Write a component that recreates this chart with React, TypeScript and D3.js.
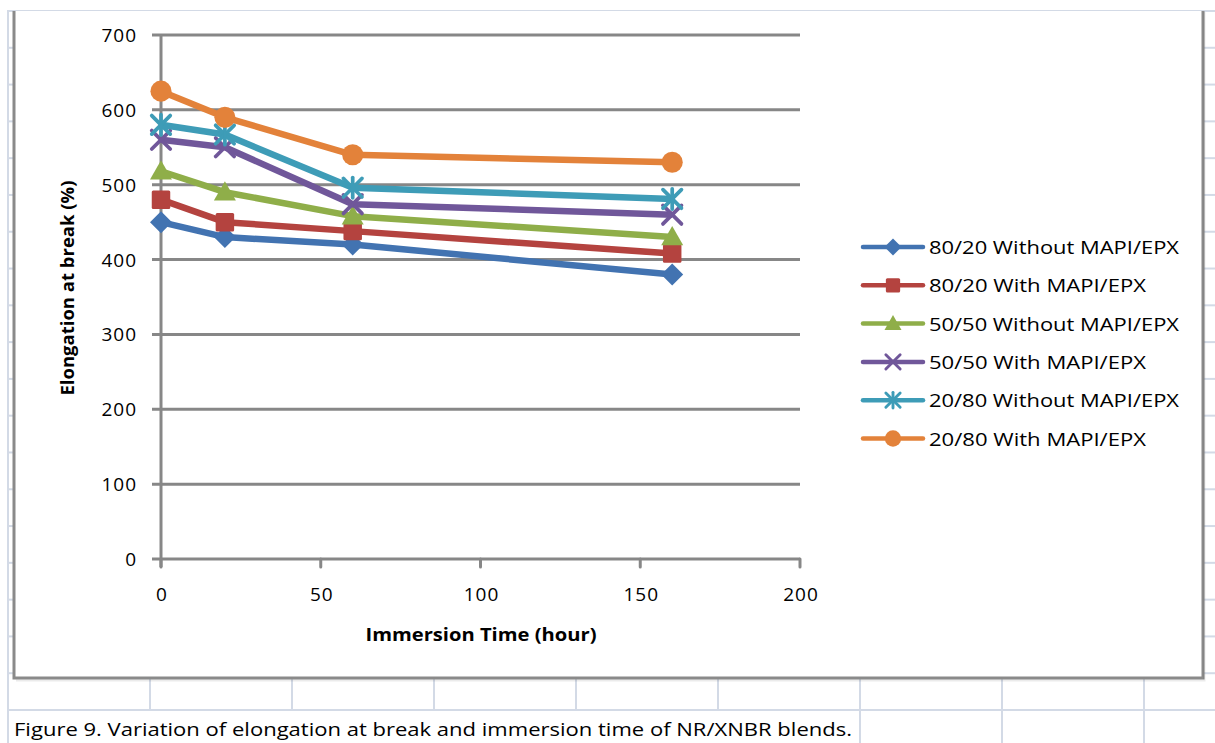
import React from "react";
import * as d3 from "d3";

const W = 1215;
const H = 743;

// Immersion times (hours)
const times = [0, 20, 60, 160];

const seriesNames = [
  "80/20 Without MAPI/EPX",
  "80/20 With MAPI/EPX",
  "50/50 Without MAPI/EPX",
  "50/50 With MAPI/EPX",
  "20/80 Without MAPI/EPX",
  "20/80 With MAPI/EPX",
];

// Elongation at break (%) per series
const s8020Without = [450, 430, 420, 380];
const s8020With = [480, 450, 438, 408];
const s5050Without = [518, 490, 458, 430];
const s5050With = [560, 550, 474, 460];
const s2080Without = [580, 567, 496, 481];
const s2080With = [625, 590, 540, 530];

const seriesValues = [s8020Without, s8020With, s5050Without, s5050With, s2080Without, s2080With];
const seriesColors = ["#4273B1", "#B4433F", "#8FAE49", "#70579A", "#3E9CB7", "#E3823A"];
const markerKinds = ["diamond", "square", "triangle", "x", "star", "circle"];

const yTicks = [0, 100, 200, 300, 400, 500, 600, 700];
const xTicks = [0, 50, 100, 150, 200];

const xTitle = "Immersion Time (hour)";
const yTitle = "Elongation at break (%)";
const caption = "Figure 9. Variation of elongation at break and immersion time of NR/XNBR blends.";

const FONT = "'Open Sans', 'Liberation Sans', sans-serif";
const GRID = "#878787";
const SHEET = "#D3DAE6";

function Marker({ kind, cx, cy, color, s }: { kind: string; cx: number; cy: number; color: string; s: number }) {
  const h = s / 2;
  if (kind === "diamond") {
    return <path d={`M${cx},${cy - h}L${cx + h},${cy}L${cx},${cy + h}L${cx - h},${cy}Z`} fill={color} />;
  }
  if (kind === "square") {
    const a = s * 0.42;
    return <rect x={cx - a} y={cy - a} width={2 * a} height={2 * a} fill={color} rx={1.5} />;
  }
  if (kind === "triangle") {
    const a = s * 0.5;
    return <path d={`M${cx},${cy - a}L${cx + a},${cy + a * 0.75}L${cx - a},${cy + a * 0.75}Z`} fill={color} />;
  }
  if (kind === "circle") {
    return <circle cx={cx} cy={cy} r={s * 0.48} fill={color} />;
  }
  const a = s * 0.42;
  const sw = s * 0.17;
  return (
    <g stroke={color} strokeWidth={sw} strokeLinecap="round">
      <line x1={cx - a} y1={cy - a} x2={cx + a} y2={cy + a} />
      <line x1={cx - a} y1={cy + a} x2={cx + a} y2={cy - a} />
      {kind === "star" && <line x1={cx} y1={cy - a * 1.1} x2={cx} y2={cy + a * 1.1} />}
    </g>
  );
}

export default function App() {
  const x = d3.scaleLinear().domain([0, 200]).range([161, 800]);
  const y = d3.scaleLinear().domain([0, 700]).range([559, 35]);

  const line = d3
    .line<number>()
    .x((_, i) => x(times[i]))
    .y((v) => y(v));

  // spreadsheet row and column lines around the embedded chart
  const rowStep = (710 - 11) / 19;
  const rows = d3.range(1, 19).map((i) => 11 + i * rowStep);
  const colStep = (1144 - 8) / 8;
  const cols = d3.range(1, 9).map((i) => 8 + i * colStep);

  const legendX = 863;
  const legendY0 = 247;
  const legendStep = 38.3;
  const legendWidths = [250, 217, 250, 217, 250, 217];

  return (
    <svg width={W} height={H} style={{ position: "absolute", left: 0, top: 0, background: "#fff" }} fontFamily={FONT}>
      <rect width={W} height={H} fill="#fff" />
      {/* sheet grid */}
      <g stroke={SHEET} strokeWidth={2}>
        <line x1={7} y1={11} x2={W} y2={11} />
        <line x1={8} y1={11} x2={8} y2={H} />
        <line x1={8} y1={710} x2={W} y2={710} />
        {rows.map((r) => (
          <g key={r}>
            <line x1={8} y1={r} x2={14} y2={r} />
            <line x1={1203} y1={r} x2={W} y2={r} />
          </g>
        ))}
        {cols.map((c) => (
          <line key={c} x1={c} y1={678} x2={c} y2={c > 850 ? H : 710} />
        ))}
      </g>

      {/* chart frame */}
      <rect x={14} y={11} width={1189} height={667} fill="#fff" />
      <g stroke="#8a8a8a" strokeWidth={3} fill="none">
        <path d="M14,11V678H1203V11" />
      </g>
      <path d="M16,680.5H1204.5V12" stroke="#000" strokeOpacity={0.08} strokeWidth={2} fill="none" />

      {/* gridlines and y ticks */}
      <g stroke={GRID} strokeWidth={3}>
        {yTicks.map((t) => (
          <line key={t} x1={152} y1={y(t)} x2={800} y2={y(t)} />
        ))}
        <line x1={x(0)} y1={y(700)} x2={x(0)} y2={567} />
        {xTicks.map((t) => (
          <line key={t} x1={x(t)} y1={y(0)} x2={x(t)} y2={567} strokeLinecap="round" />
        ))}
      </g>

      {/* tick labels */}
      <g fontSize={19} fill="#000" letterSpacing={1}>
        {yTicks.map((t) => (
          <text key={t} x={137} y={y(t) + 7} textAnchor="end">
            {t}
          </text>
        ))}
        {xTicks.map((t) => (
          <text key={t} x={x(t) + 1} y={601} textAnchor="middle">
            {t}
          </text>
        ))}
      </g>

      {/* axis titles */}
      <text x={481} y={641} textAnchor="middle" fontSize={17.5} fontWeight="bold" textLength={231} lengthAdjust="spacingAndGlyphs">
        {xTitle}
      </text>
      <text
        transform={`translate(74,288) rotate(-90)`}
        textAnchor="middle"
        fontSize={17.5}
        fontWeight="bold"
        textLength={215}
        lengthAdjust="spacingAndGlyphs"
      >
        {yTitle}
      </text>

      {/* series */}
      {seriesValues.map((vals, si) => (
        <g key={seriesNames[si]}>
          <path d={line(vals) || ""} fill="none" stroke={seriesColors[si]} strokeWidth={6.5} strokeLinejoin="round" />
          {vals.map((v, i) => (
            <Marker key={i} kind={markerKinds[si]} cx={x(times[i])} cy={y(v)} color={seriesColors[si]} s={22} />
          ))}
        </g>
      ))}

      {/* legend */}
      {seriesNames.map((name, si) => {
        const ly = legendY0 + si * legendStep;
        return (
          <g key={name}>
            <line x1={legendX} y1={ly} x2={legendX + 60} y2={ly} stroke={seriesColors[si]} strokeWidth={4.5} strokeLinecap="round" />
            <Marker kind={markerKinds[si]} cx={legendX + 30} cy={ly} color={seriesColors[si]} s={17} />
            <text x={929} y={ly + 7} fontSize={19} textLength={legendWidths[si]} lengthAdjust="spacingAndGlyphs">
              {name}
            </text>
          </g>
        );
      })}

      {/* caption */}
      <text x={14} y={736} fontSize={18.5} textLength={838} lengthAdjust="spacingAndGlyphs">
        {caption}
      </text>
    </svg>
  );
}
